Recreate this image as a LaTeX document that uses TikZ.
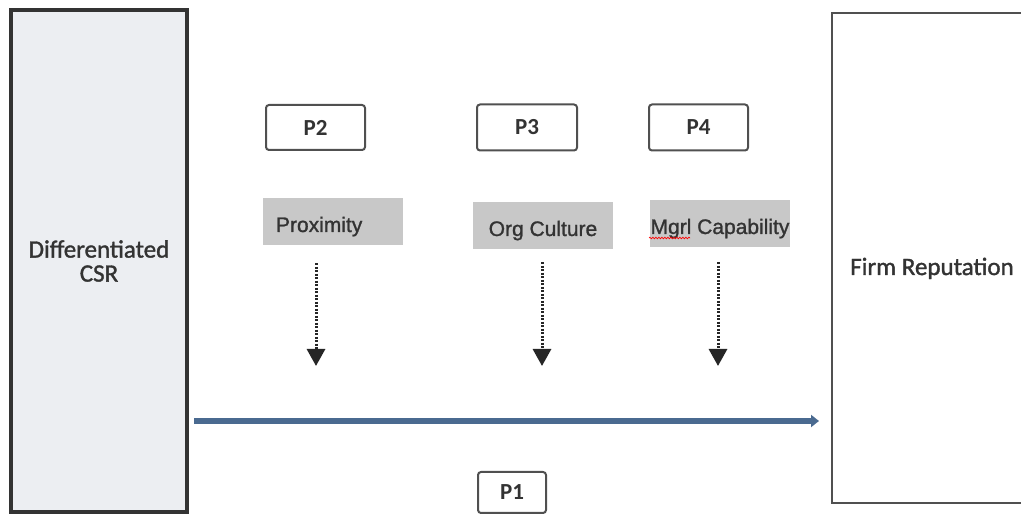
\documentclass[tikz,border=0pt]{standalone}
\usepackage{fontspec}
\setmainfont{Carlito}
\newfontfamily\arialfont[FakeBold=1.2]{Liberation Sans}
\newfontfamily\labelfont[FakeBold=1.4]{Carlito}
\usetikzlibrary{arrows.meta,decorations.pathmorphing}
\definecolor{csrfill}{HTML}{ECEEF2}
\definecolor{pathblue}{HTML}{4A6A90}
\definecolor{modgray}{HTML}{C8C8C8}
\definecolor{framegray}{HTML}{505050}
\definecolor{inkgray}{HTML}{333333}

\begin{document}
\begin{tikzpicture}[x=1pt, y=-1pt,
	every node/.style={inner sep=0pt, align=center, text=inkgray},
	pbox/.style={draw=framegray, line width=2pt, rounded corners=3pt, font=\fontsize{23}{27}\selectfont\bfseries},
	modbox/.style={fill=modgray, minimum width=140pt, minimum height=47pt, text height=21pt, text depth=0pt, font=\arialfont\fontsize{21}{25}\selectfont},
	modarrow/.style={draw=black!85, line width=3pt, dash pattern=on 2pt off 1.5pt, -{Triangle[length=17pt,width=18pt]}},
	mainarrow/.style={draw=pathblue, line width=6pt, -{Triangle[length=8pt,width=12pt]}}]
	\useasboundingbox (0,0) rectangle (1021,518);
	\node[draw=black!80, line width=4pt, fill=csrfill, minimum width=176pt, minimum height=502pt, font=\labelfont\fontsize{25}{24}\selectfont] (csr) at (99,261) {Differentiated\\CSR};
	\node[draw=framegray, line width=2pt, minimum width=200pt, minimum height=490pt, text height=34pt, text depth=0pt, font=\labelfont\fontsize{25}{28}\selectfont] (rep) at (932,258) {Firm Reputation};
	\node[pbox, minimum width=99pt, minimum height=45pt] (p2) at (315.5,127.5) {P2};
	\node[pbox, minimum width=100pt, minimum height=46pt] (p3) at (527,127.5) {P3};
	\node[pbox, minimum width=99pt, minimum height=46pt] (p4) at (698.5,127.5) {P4};
	\node[pbox, minimum width=68pt, minimum height=41pt] (p1) at (512,492.5) {P1};
	\node[modbox, text width=114pt, align=left] (prox) at (333,221.5) {Proximity};
	\node[modbox] (culture) at (543,225.5) {Org Culture};
	\node[modbox] (capab) at (720,223.5) {Mgrl Capability};
	\draw[red, line width=0.7pt, decorate, decoration={snake, amplitude=0.8pt, segment length=3pt}] (649,238) -- (690,238);
	\coordinate (proxend) at (316,366);
	\coordinate (cultend) at (542,366);
	\coordinate (capend) at (718,366);
	\draw[modarrow, shorten <=18pt] (prox.south -| proxend) -- (proxend);
	\draw[modarrow, shorten <=13pt] (culture.south -| cultend) -- (cultend);
	\draw[modarrow, shorten <=15pt] (capab.south -| capend) -- (capend);
	\draw[mainarrow, shorten <=5pt, shorten >=12pt] ([yshift=-160pt]csr.east) -- ([yshift=-163pt]rep.west);
\end{tikzpicture}
\end{document}
